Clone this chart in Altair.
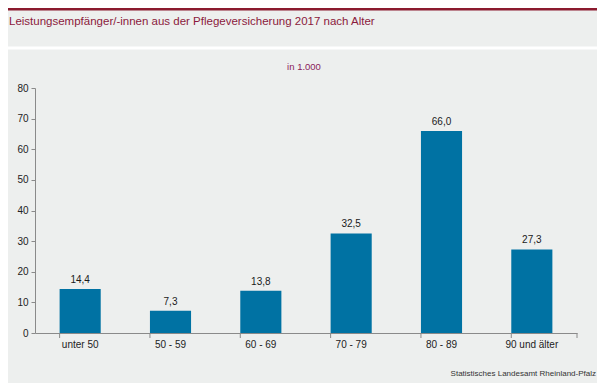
import altair as alt
import pandas as pd

categories = ["unter 50", "50 - 59", "60 - 69", "70 - 79", "80 - 89", "90 und älter"]
values = [14.4, 7.3, 13.8, 32.5, 66.0, 27.3]
labels = ["14,4", "7,3", "13,8", "32,5", "66,0", "27,3"]
y_ticks = [0, 10, 20, 30, 40, 50, 60, 70, 80]

title_text = "Leistungsempfänger/-innen aus der Pflegeversicherung 2017 nach Alter"
subtitle_text = "in 1.000"
source_text = "Statistisches Landesamt Rheinland-Pfalz"

df = pd.DataFrame({"cat": categories, "val": values, "lab": labels})

W, H = 542, 245
FONT = "Liberation Sans"
AXIS_COLOR = "#8a8a8a"
BAR_COLOR = "#0072a3"
TITLE_COLOR = "#8b1a3c"

xenc = alt.X("cat:N", sort=categories, title=None,
             scale=alt.Scale(paddingInner=0.545, paddingOuter=0.2725),
             axis=alt.Axis(labelAngle=0, ticks=False, domainColor=AXIS_COLOR,
                           labelFont=FONT, labelFontSize=10, labelColor="#222222",
                           labelPadding=6))
yenc = alt.Y("val:Q", title=None,
             scale=alt.Scale(domain=[0, 80], nice=False),
             axis=alt.Axis(values=y_ticks, grid=False, labelOverlap=False,
                           domainColor=AXIS_COLOR, tickColor=AXIS_COLOR, tickSize=4,
                           labelFont=FONT, labelFontSize=10, labelColor="#222222",
                           labelPadding=3))

base = alt.Chart(df)

bars = base.mark_bar(color=BAR_COLOR).encode(x=xenc, y=yenc)

bar_labels = base.mark_text(font=FONT, fontSize=10, color="#1a1a1a",
                            baseline="bottom", dy=-4).encode(
    x=xenc, y=yenc, text="lab:N")

xticks = base.mark_rule(color=AXIS_COLOR, strokeWidth=1).encode(
    x=alt.X("cat:N", sort=categories, bandPosition=0, title=None,
            scale=alt.Scale(paddingInner=0.545, paddingOuter=0.2725),
            axis=alt.Axis(labelAngle=0, ticks=False, domainColor=AXIS_COLOR,
                          labelFont=FONT, labelFontSize=10, labelColor="#222222",
                          labelPadding=6)),
    y=alt.value(H), y2=alt.value(H + 5))

one = pd.DataFrame({"k": [0]})

last_tick = alt.Chart(one).mark_rule(color=AXIS_COLOR).encode(
    x=alt.value(W), y=alt.value(H), y2=alt.value(H + 5))

top_bar = alt.Chart(one).mark_rule(color="#8b1a2e", strokeWidth=3).encode(
    x=alt.value(-27), x2=alt.value(562), y=alt.value(-79))

sep_line = alt.Chart(one).mark_rule(color="#ffffff", strokeWidth=3).encode(
    x=alt.value(-27), x2=alt.value(562), y=alt.value(-40))

title = alt.Chart(one).mark_text(text=title_text, font=FONT, fontSize=11.5,
                                 color=TITLE_COLOR, align="left", baseline="middle").encode(
    x=alt.value(-26), y=alt.value(-66))

subtitle = alt.Chart(one).mark_text(text=subtitle_text, font=FONT, fontSize=9.5,
                                    color="#8b1a5a", align="center", baseline="middle").encode(
    x=alt.value(269), y=alt.value(-21))

source = alt.Chart(one).mark_text(text=source_text, font=FONT, fontSize=8,
                                  color="#333333", align="right", baseline="middle").encode(
    x=alt.value(561), y=alt.value(41 + H))

chart = alt.layer(top_bar, sep_line, title, subtitle, bars, bar_labels, xticks, last_tick, source).properties(
    width=W, height=H,
    autosize=alt.AutoSizeParams(type="none"),
    padding={"left": 27, "top": 80, "right": 20, "bottom": 50},
    background="#edefee",
).configure_view(stroke=None)

chart.save("out.html", embed_options={"renderer": "svg", "actions": False})
